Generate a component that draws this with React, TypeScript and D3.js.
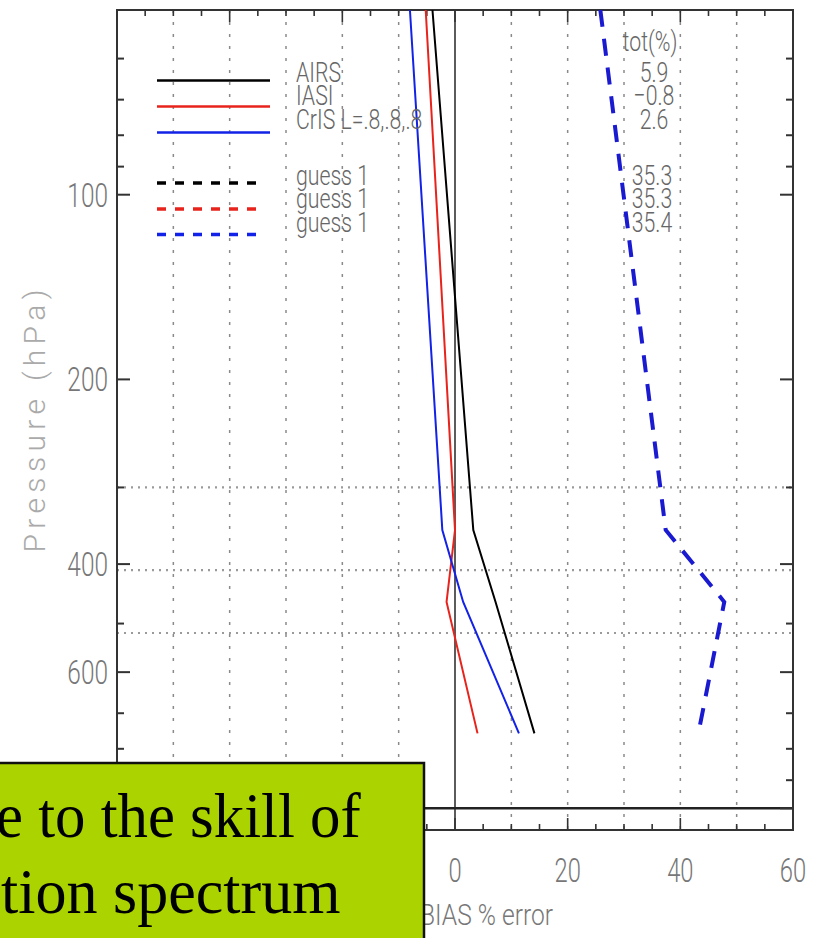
import React from "react";
import * as d3 from "d3";

// ---- data ----
const pressureLevels = [50, 352, 461, 755];
const airsBias = [-4.0, 3.25, 7.2, 14.1];
const iasiBias = [-5.2, 0.0, -1.5, 4.0];
const crisBias = [-8.0, -2.25, 1.45, 11.35];
const guessBias = [25.8, 37.4, 47.8, 43.2];

const legendLabels = ["AIRS", "IASI", "CrIS L=.8,.8,.8"];
const legendColors = ["#000000", "#e8231c", "#1222e6"];
const guessLabels = ["guess 1", "guess 1", "guess 1"];
const totLabels = ["5.9", "\u22120.8", "2.6"];
const guessTotLabels = ["35.3", "35.3", "35.4"];

const yLabelTicks = [100, 200, 400, 600];
const yMajorTicks = [100, 200, 400, 600, 1000];
const yMinorTicks = [60, 70, 80, 90, 300, 500, 700, 800, 900];
const xLabelTicks = [0, 20, 40, 60];
const xGridTicks = [-50, -40, -30, -20, -10, 10, 20, 30, 40, 50];
const refLevels = [300, 409, 518];
const surfaceLevel = 1000;

const W = 821;
const H = 938;
const L = 117, R = 793, T = 10, B = 830;

const x = d3.scaleLinear().domain([-60, 60]).range([L, R]);
const y = d3.scaleLog().domain([50, 1085]).range([T, B]);

const FONT = "Roboto, 'DejaVu Sans', sans-serif";

function NText({ x0, y0, sx = 0.72, size, anchor = "start", fill = "#777", children }: any) {
  return (
    <text
      transform={`translate(${x0},${y0}) scale(${sx},1)`}
      fontFamily={FONT}
      fontWeight={300}
      fontSize={size}
      textAnchor={anchor}
      fill={fill}
    >
      {children}
    </text>
  );
}

export default function App() {
  const line = d3
    .line<[number, number]>()
    .x((d) => x(d[0]))
    .y((d) => y(d[1]));
  const mk = (vals: number[]) => vals.map((v, i) => [v, pressureLevels[i]] as [number, number]);

  const xTicks5 = d3.range(-60, 61, 5);

  const legendY = [80.5, 106.5, 132.5];
  const guessY = [183, 209, 234.5];
  const labelBase = [82, 105, 129];
  const guessBase = [185, 208, 232];
  const serif = "'Liberation Serif', 'Times New Roman', serif";

  return (
    <svg
      width={W}
      height={H}
      style={{ position: "absolute", left: 0, top: 0, background: "#fff" }}
    >
      <rect x={0} y={0} width={W} height={H} fill="#fff" />
      {/* vertical dotted grid */}
      {xGridTicks.map((t) => (
        <line key={"gx" + t} x1={x(t)} x2={x(t)} y1={T} y2={B} stroke="#8a8a8a" strokeWidth={1.5} strokeDasharray="3 9" />
      ))}
      {/* horizontal dotted reference levels */}
      {refLevels.map((p) => (
        <line key={"ref" + p} x1={L} x2={R} y1={y(p)} y2={y(p)} stroke="#9a9a9a" strokeWidth={2.2} strokeDasharray="2 5" />
      ))}
      {/* zero line */}
      <line x1={x(0)} x2={x(0)} y1={T} y2={B} stroke="#333" strokeWidth={1.6} />
      {/* surface line */}
      <line x1={L} x2={R} y1={y(surfaceLevel)} y2={y(surfaceLevel)} stroke="#222" strokeWidth={2.5} />

      {/* frame */}
      <rect x={L} y={T} width={R - L} height={B - T} fill="none" stroke="#333" strokeWidth={2} />

      {/* x ticks top and bottom */}
      {xTicks5.map((t) => {
        const len = t % 20 === 0 ? 12 : 6;
        return (
          <g key={"xt" + t}>
            <line x1={x(t)} x2={x(t)} y1={T} y2={T + len} stroke="#333" strokeWidth={1.6} />
            <line x1={x(t)} x2={x(t)} y1={B} y2={B - len} stroke="#333" strokeWidth={1.6} />
          </g>
        );
      })}
      {/* y ticks */}
      {yMajorTicks.map((p) => (
        <g key={"ym" + p}>
          <line x1={L} x2={L + 13} y1={y(p)} y2={y(p)} stroke="#333" strokeWidth={2} />
          <line x1={R} x2={R - 13} y1={y(p)} y2={y(p)} stroke="#333" strokeWidth={2} />
        </g>
      ))}
      {yMinorTicks.map((p) => (
        <g key={"yn" + p}>
          <line x1={L} x2={L + 7} y1={y(p)} y2={y(p)} stroke="#333" strokeWidth={2} />
          <line x1={R} x2={R - 7} y1={y(p)} y2={y(p)} stroke="#333" strokeWidth={2} />
        </g>
      ))}

      {/* y tick labels */}
      {yLabelTicks.map((p) => (
        <NText key={"yl" + p} x0={L - 9} y0={y(p) + 12} size={33} anchor="end" sx={0.74}>
          {String(p)}
        </NText>
      ))}
      {/* x tick labels */}
      {xLabelTicks.map((t) => (
        <NText key={"xl" + t} x0={x(t)} y0={882} size={33} anchor="middle">
          {String(t)}
        </NText>
      ))}
      <NText x0={420} y0={925} size={30} sx={0.82}>
        BIAS % error
      </NText>
      <text
        transform={`translate(45,421) rotate(-90)`}
        fontFamily={FONT}
        fontWeight={300}
        fontSize={30}
        fill="#aaa"
        textAnchor="middle"
        textLength={263}
        lengthAdjust="spacing"
      >
        Pressure (hPa)
      </text>

      {/* profiles */}
      <path d={line(mk(airsBias)) || ""} fill="none" stroke={legendColors[0]} strokeWidth={2} />
      <path d={line(mk(iasiBias)) || ""} fill="none" stroke={legendColors[1]} strokeWidth={2} />
      <path d={line(mk(crisBias)) || ""} fill="none" stroke={legendColors[2]} strokeWidth={2} />
      <path d={line(mk(guessBias)) || ""} fill="none" stroke="#1a1ad0" strokeWidth={4} strokeDasharray="17 12" />

      {/* legend */}
      {legendLabels.map((lab, i) => (
        <g key={"lg" + i}>
          <line x1={157} x2={270} y1={legendY[i]} y2={legendY[i]} stroke={legendColors[i]} strokeWidth={2.5} />
          <NText x0={296} y0={labelBase[i]} size={28} sx={0.76} fill="#666">
            {lab}
          </NText>
          <NText x0={654} y0={labelBase[i]} size={28} sx={0.76} fill="#666" anchor="middle">
            {totLabels[i]}
          </NText>
        </g>
      ))}
      {guessLabels.map((lab, i) => (
        <g key={"gl" + i}>
          <line x1={157} x2={262} y1={guessY[i]} y2={guessY[i]} stroke={legendColors[i]} strokeWidth={3.5} strokeDasharray="9 9" />
          <NText x0={296} y0={guessBase[i]} size={28} sx={0.76} fill="#666">
            {lab}
          </NText>
          <NText x0={652} y0={guessBase[i]} size={28} sx={0.76} fill="#666" anchor="middle">
            {guessTotLabels[i]}
          </NText>
        </g>
      ))}
      <NText x0={650} y0={51} size={28} sx={0.76} fill="#666" anchor="middle">
        tot(%)
      </NText>

      {/* slide overlay box */}
      <rect x={-10} y={763} width={434} height={200} fill="#aad300" stroke="#111" strokeWidth={2.5} />
      <text transform="translate(-4,837) scale(0.95,1)" fontFamily={serif} fontSize={64} fill="#000">
        e to the skill of
      </text>
      <text transform="translate(1,913) scale(0.97,1)" fontFamily={serif} fontSize={64} fill="#000">
        tion spectrum
      </text>
    </svg>
  );
}
